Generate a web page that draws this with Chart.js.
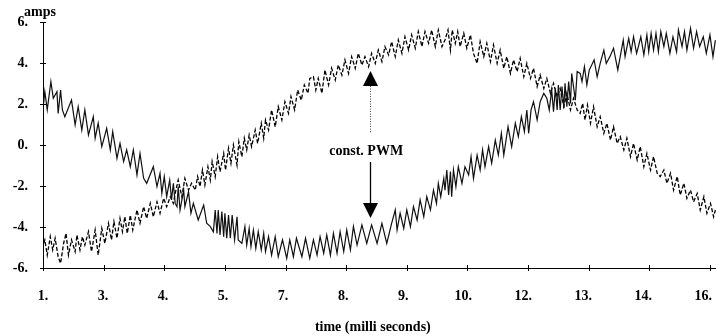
<!DOCTYPE html>
<html>
<head>
<meta charset="utf-8">
<script src="https://cdn.jsdelivr.net/npm/chart.js@4/dist/chart.umd.min.js"></script>
<style>
  body { margin: 0; background: #fff; }
  #wrap { width: 716px; height: 336px; }
</style>
</head>
<body>
<div id="wrap"><canvas id="pwmChart" width="716" height="336"></canvas></div>
<script>
// x is in tick slots (0 = "1.", 11 = "16."), y in amps
var xTickLabels = ['1.', '3.', '4.', '5.', '7.', '8.', '9.', '10.', '12.', '13.', '14.', '16.'];
var yTickValues = [-6, -4, -2, 0, 2, 4, 6];

// solid trace (falls, then rises)
var solidPts = [
  [0.01,2.03],[0.03,2.60],[0.07,1.71],[0.13,3.09],[0.17,2.28],[0.23,2.60],[0.25,1.54],[0.29,2.68],[0.32,1.71],[0.36,1.38],
  [0.47,2.19],[0.53,0.98],[0.58,1.87],[0.64,0.73],[0.69,1.71],[0.75,0.49],[0.83,1.38],[0.86,0.33],[0.91,1.06],[0.97,-0.08],
  [1.05,0.81],[1.11,-0.24],[1.15,0.65],[1.22,-0.65],[1.27,0.08],[1.33,-0.81],[1.38,-0.24],[1.44,-1.06],[1.49,-0.24],[1.55,-1.46],
  [1.60,-0.41],[1.66,-1.63],[1.71,-1.87],[1.82,-1.06],[1.88,-2.03],[1.93,-1.38],[1.96,-2.36],[2.00,-1.54],[2.04,-2.52],[2.09,-1.71],
  [2.12,-2.68],[2.15,-1.87],[2.18,-2.85],
  [2.21,-3.01],[2.23,-2.03],[2.26,-3.17],[2.32,-2.20],[2.34,-3.01],[2.40,-2.28],[2.44,-3.33],[2.48,-2.85],[2.56,-3.66],[2.65,-2.93],
  [2.70,-3.82],[2.76,-3.98],[2.81,-4.23],[2.84,-3.17],[2.87,-4.31],[2.89,-3.17],[2.92,-4.39],[2.95,-3.25],[2.98,-4.47],[3.00,-3.33],
  [3.03,-4.55],[3.06,-3.42],[3.09,-4.55],[3.12,-3.42],[3.16,-4.63],[3.20,-3.50],[3.22,-4.63],[3.28,-4.80],[3.33,-3.98],[3.36,-4.88],
  [3.40,-4.07],[3.43,-4.96],[3.47,-4.15],[3.51,-5.04],[3.55,-4.23],[3.60,-5.12],[3.64,-4.31],[3.67,-5.20],[3.72,-4.47],[3.77,-5.37],
  [3.83,-4.47],[3.88,-5.45],[3.95,-4.63],[4.02,-5.53],[4.07,-4.63],[4.13,-5.45],[4.18,-4.55],[4.27,-5.45],[4.33,-4.55],[4.40,-5.53],
  [4.46,-4.63],[4.52,-5.37],[4.57,-4.47],[4.63,-5.28],[4.68,-4.39],[4.74,-5.37],[4.79,-4.31],[4.85,-5.28],[4.90,-4.23],[4.96,-5.20],
  [5.01,-4.15],[5.07,-5.12],[5.12,-3.98],[5.18,-4.88],[5.26,-3.90],[5.34,-4.80],[5.42,-3.90],[5.51,-4.80],[5.59,-3.82],[5.67,-4.80],
  [5.75,-3.82],[5.81,-3.17],[5.84,-4.15],[5.89,-3.33],[5.95,-4.07],[6.00,-3.17],[6.06,-3.98],[6.11,-3.01],[6.17,-3.66],[6.22,-2.68],
  [6.28,-3.50],[6.33,-2.52],[6.39,-3.17],[6.44,-2.20],[6.49,-2.85],[6.52,-1.87],[6.56,-2.52],[6.61,-1.63],[6.63,-2.20],
  [6.66,-1.22],[6.69,-2.44],[6.72,-1.30],[6.74,-2.52],[6.77,-1.22],[6.81,-2.03],[6.85,-1.06],[6.91,-1.87],[6.96,-1.06],[7.02,-1.46],
  [7.06,-0.57],[7.10,-1.63],[7.16,-0.49],[7.21,-1.22],[7.25,-0.24],[7.29,-1.06],[7.35,-0.08],[7.40,-0.89],[7.46,0.24],[7.51,-0.49],
  [7.56,0.57],[7.60,-0.49],[7.67,0.89],[7.73,-0.08],[7.79,1.06],[7.84,0.41],[7.89,1.38],[7.94,0.65],[7.98,1.71],[8.01,0.57],
  [8.05,1.71],[8.09,2.11],[8.15,1.22],[8.20,2.11],[8.26,2.52],[8.31,2.28],[8.35,1.71],[8.39,2.68],[8.42,1.63],[8.45,2.76],
  [8.48,1.71],[8.50,2.93],[8.53,1.71],[8.56,2.85],[8.59,1.79],[8.61,3.01],[8.64,1.87],[8.67,3.09],[8.70,2.03],[8.72,3.49],
  [8.78,2.19],[8.81,3.58],
  [8.86,3.49],[8.89,3.09],[8.93,3.82],[8.97,2.93],[9.01,3.66],[9.05,3.90],[9.09,4.15],[9.14,3.33],[9.19,3.98],[9.25,4.63],
  [9.29,3.98],[9.35,4.31],[9.41,4.72],[9.48,3.66],[9.53,4.47],[9.57,5.12],[9.60,4.31],[9.66,5.20],[9.70,4.55],[9.74,5.28],
  [9.79,4.47],[9.82,4.80],[9.86,5.28],[9.91,4.39],[9.96,5.37],[9.99,4.55],[10.03,5.45],[10.07,4.63],[10.11,5.45],[10.15,4.55],
  [10.19,5.53],[10.24,4.80],[10.28,5.45],[10.34,4.47],[10.39,5.28],[10.45,4.55],[10.48,5.61],[10.54,4.80],[10.58,5.53],[10.62,4.63],
  [10.68,5.69],[10.73,4.72],[10.78,5.53],[10.83,4.80],[10.89,5.28],[10.94,4.47],[11.00,5.37],[11.05,4.31],[11.09,5.12]
];

// dashed trace (rises, then falls)
var dashedPts = [
  [0.01,-4.80],[0.03,-4.63],[0.07,-5.37],[0.12,-4.47],[0.16,-5.12],[0.20,-4.55],[0.25,-5.45],[0.29,-5.77],[0.34,-4.80],[0.38,-4.31],
  [0.42,-5.37],[0.47,-4.63],[0.53,-5.20],[0.56,-4.39],[0.61,-5.12],[0.65,-4.47],[0.69,-4.88],[0.75,-4.23],[0.80,-5.20],[0.86,-4.15],
  [0.91,-5.37],[0.97,-4.07],[1.02,-4.80],[1.08,-3.82],[1.13,-4.63],[1.17,-3.74],[1.22,-4.55],[1.27,-3.58],[1.31,-4.23],[1.35,-3.50],
  [1.39,-4.31],[1.44,-3.42],[1.48,-4.15],[1.55,-3.17],[1.60,-3.82],[1.66,-3.01],[1.71,-3.58],[1.77,-2.85],[1.82,-3.50],[1.88,-2.77],
  [1.93,-3.33],[1.99,-2.60],[2.04,-3.01],[2.10,-2.52],[2.15,-2.85],[2.18,-2.36],
  [2.23,-1.71],[2.29,-2.52],[2.34,-1.63],[2.40,-2.20],[2.45,-1.87],[2.51,-2.20],[2.55,-1.54],[2.59,-2.03],[2.63,-1.22],[2.67,-1.95],
  [2.72,-1.06],[2.76,-1.71],[2.79,-0.81],[2.84,-1.54],[2.88,-0.57],[2.92,-1.30],[2.98,-0.41],[3.01,-1.22],[3.06,-0.16],[3.10,-0.89],
  [3.14,0.00],[3.20,-0.98],[3.23,0.16],[3.28,-0.57],[3.32,0.33],[3.36,-0.24],[3.40,0.49],[3.44,-0.08],[3.50,0.73],[3.54,0.08],
  [3.60,1.06],[3.64,0.33],[3.67,1.22],[3.72,0.73],[3.77,1.71],[3.83,0.89],[3.88,1.87],[3.94,1.22],[3.99,2.11],[4.05,1.54],
  [4.09,2.36],[4.15,1.71],[4.20,2.68],[4.26,2.19],[4.31,2.93],[4.37,2.52],[4.40,3.25],
  [4.46,3.33],[4.50,2.68],[4.54,3.25],[4.60,2.52],[4.65,3.66],[4.71,2.93],[4.76,3.74],[4.82,3.17],[4.87,3.90],[4.93,3.41],
  [4.98,4.15],[5.04,3.49],[5.09,4.31],[5.15,3.74],[5.20,4.47],[5.26,3.90],[5.31,4.31],[5.37,3.82],[5.42,4.47],[5.48,3.98],
  [5.53,4.63],[5.59,4.07],[5.64,4.80],[5.70,4.39],[5.75,5.04],[5.81,4.31],[5.86,5.12],[5.92,4.47],[5.97,5.28],[6.03,4.63],
  [6.08,5.37],[6.14,4.72],[6.19,5.53],[6.25,4.80],[6.30,5.53],[6.36,4.96],[6.41,5.61],[6.47,4.80],[6.52,5.61],[6.58,4.80],
  [6.63,5.12],[6.68,5.61],[6.72,4.63],[6.75,5.61],[6.80,4.96],[6.84,5.53],[6.88,4.80],[6.94,5.45],[6.99,4.72],[7.05,5.37],
  [7.10,4.47],[7.16,3.98],[7.21,5.04],[7.27,4.31],[7.32,4.96],[7.38,4.07],[7.43,4.88],[7.49,3.98],[7.54,4.63],[7.60,3.74],
  [7.65,4.31],[7.71,3.49],[7.76,4.15],[7.82,3.58],[7.87,4.23],[7.93,3.33],[7.98,3.98],[8.04,3.25],[8.09,3.74],[8.15,2.85],
  [8.20,3.41],[8.26,2.76],[8.31,3.25],[8.37,2.52],[8.42,3.01],[8.48,2.36],[8.53,2.76],[8.59,1.87],[8.64,2.52],[8.70,1.71],
  [8.75,2.28],[8.81,1.71],
  [8.86,1.54],[8.90,2.03],[8.94,1.22],[8.98,1.95],[9.03,1.06],[9.08,1.87],[9.14,0.89],[9.19,1.38],[9.25,0.57],[9.30,1.06],
  [9.36,0.24],[9.41,0.89],[9.47,0.08],[9.52,0.41],[9.58,-0.24],[9.63,0.33],[9.69,-0.57],[9.74,0.08],[9.80,-0.73],[9.85,-0.08],
  [9.91,-1.06],[9.96,-0.41],[10.02,-1.22],[10.07,-0.57],[10.13,-1.38],[10.18,-1.54],[10.24,-1.22],[10.29,-1.87],[10.35,-1.38],[10.40,-2.20],
  [10.46,-1.54],[10.51,-2.44],[10.57,-1.87],[10.62,-2.60],[10.68,-2.20],[10.73,-2.77],[10.79,-2.36],[10.84,-3.17],[10.90,-2.52],[10.95,-3.33],
  [11.01,-2.85],[11.06,-3.50],[11.09,-3.17]
];

// annotation: where the PWM is held constant
var noteText = 'const. PWM';
var noteT = 5.33, noteAmps = -0.29;
var arrowT = 5.40;
var upArrow = { from: 0.63, base: 2.88, tip: 3.61 };
var downArrow = { from: -0.83, base: -2.83, tip: -3.56 };

var serif = '"Liberation Serif", "Times New Roman", serif';

function toXY(pts) {
  return pts.map(function (p) { return { x: p[0], y: p[1] }; });
}

var decor = {
  id: 'decor',
  afterDraw: function (chart) {
    var ctx = chart.ctx;
    var xs = chart.scales.x, ys = chart.scales.y;
    var area = chart.chartArea;
    ctx.save();
    ctx.strokeStyle = '#000';
    ctx.fillStyle = '#000';
    ctx.lineWidth = 1;

    ctx.font = 'bold 14px ' + serif;
    ctx.textAlign = 'center';
    ctx.textBaseline = 'middle';

    // tick crosses and labels on the time axis
    // (the printed labels drift a little left of their ticks)
    for (var i = 0; i < xTickLabels.length; i++) {
      var tx = xs.getPixelForValue(i);
      var px = Math.round(tx) + 0.5;
      ctx.beginPath();
      ctx.moveTo(px, area.bottom - 3);
      ctx.lineTo(px, area.bottom + 3);
      ctx.stroke();
      ctx.fillText(xTickLabels[i], tx - i * 0.6, area.bottom + 28);
    }
    yTickValues.forEach(function (v) {
      var py = Math.round(ys.getPixelForValue(v)) + 0.5;
      ctx.beginPath();
      ctx.moveTo(area.left - 3, py);
      ctx.lineTo(area.left + 3, py);
      ctx.stroke();
    });

    ctx.fillText('time (milli seconds)', xs.getPixelForValue(5.44), chart.height - 9);
    ctx.fillText(noteText, xs.getPixelForValue(noteT), ys.getPixelForValue(noteAmps));
    ctx.textBaseline = 'alphabetic';
    ctx.fillText('amps', area.left - 3, area.top - 6);

    var ax = Math.round(xs.getPixelForValue(arrowT)) + 0.5;
    // upper arrow, dotted stem
    ctx.strokeStyle = '#444';
    ctx.setLineDash([1, 1.5]);
    ctx.beginPath();
    ctx.moveTo(ax, ys.getPixelForValue(upArrow.from));
    ctx.lineTo(ax, ys.getPixelForValue(upArrow.base));
    ctx.stroke();
    ctx.setLineDash([]);
    // lower arrow, solid stem
    ctx.strokeStyle = '#000';
    ctx.lineWidth = 1.3;
    ctx.beginPath();
    ctx.moveTo(ax, ys.getPixelForValue(downArrow.from));
    ctx.lineTo(ax, ys.getPixelForValue(downArrow.base));
    ctx.stroke();

    [upArrow, downArrow].forEach(function (a) {
      var yb = ys.getPixelForValue(a.base), yt = ys.getPixelForValue(a.tip);
      ctx.beginPath();
      ctx.moveTo(ax - 7.5, yb);
      ctx.lineTo(ax + 7.5, yb);
      ctx.lineTo(ax, yt);
      ctx.closePath();
      ctx.fill();
    });
    ctx.restore();
  }
};

new Chart(document.getElementById('pwmChart').getContext('2d'), {
  type: 'line',
  data: {
    datasets: [{
      label: 'solid',
      data: toXY(solidPts),
      borderColor: '#111',
      borderWidth: 1.2,
      pointRadius: 0,
      tension: 0
    }, {
      label: 'dashed',
      data: toXY(dashedPts),
      borderColor: '#000',
      borderWidth: 1.3,
      borderDash: [4, 2],
      pointRadius: 0,
      tension: 0
    }]
  },
  options: {
    responsive: false,
    animation: false,
    devicePixelRatio: 1,
    layout: { padding: { top: 22, right: 0, left: 0, bottom: 0 } },
    plugins: { legend: { display: false }, tooltip: { enabled: false } },
    scales: {
      x: {
        type: 'linear',
        min: 0,
        max: 11.1,
        grid: { display: true, drawOnChartArea: false, drawTicks: false },
        border: { display: true, color: '#000', width: 1 },
        afterBuildTicks: function (s) {
          s.ticks = xTickLabels.map(function (_, i) { return { value: i }; });
        },
        ticks: { display: false },
        afterFit: function (s) { s.height = 68; s.paddingLeft = 0; s.paddingRight = 0; }
      },
      y: {
        min: -6,
        max: 6,
        grid: { display: true, drawOnChartArea: false, drawTicks: false },
        border: { display: true, color: '#000', width: 1 },
        ticks: {
          stepSize: 2,
          padding: 15,
          color: '#000',
          font: { family: serif, size: 14, weight: 'bold' },
          callback: function (v) { return v + '.'; }
        },
        afterFit: function (s) { s.width = 43; s.paddingTop = 0; s.paddingBottom = 0; }
      }
    }
  },
  plugins: [decor]
});
</script>
</body>
</html>
